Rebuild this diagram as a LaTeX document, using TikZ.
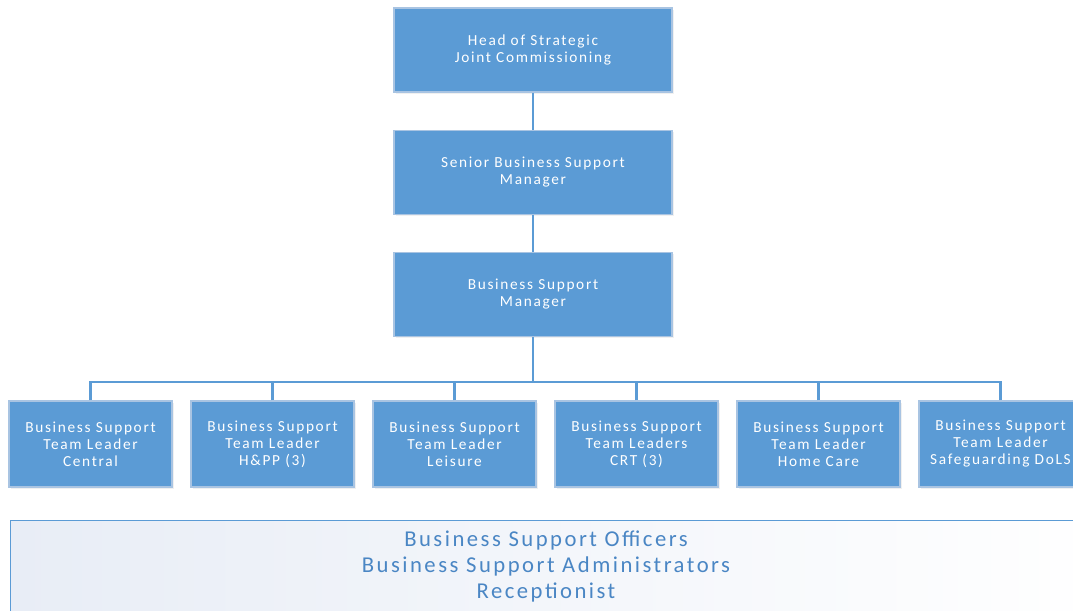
\documentclass[tikz,border=0pt]{standalone}
\usepackage{fontspec}
\setmainfont[LetterSpace=11]{Carlito}
\usetikzlibrary{shadows}
\definecolor{boxblue}{HTML}{5B9BD5}
\definecolor{boxedge}{HTML}{A9C4E2}
\definecolor{paneltext}{HTML}{4A86C4}
\definecolor{panelfill}{HTML}{E8EDF6}
\tikzset{
  post/.style={draw=boxedge, line width=0.9pt, fill=boxblue, text=white, align=center,
    minimum width=278*0.75pt, minimum height=84*0.75pt, inner sep=0pt,
    font=\fontsize{11.5}{12.75}\selectfont,
    drop shadow={opacity=0.12, shadow xshift=1.2pt, shadow yshift=-1.2pt}},
  teampost/.style={post, minimum width=163*0.75pt, minimum height=86*0.75pt},
  link/.style={draw=boxblue, line width=1.6pt}
}
\begin{document}
\begin{tikzpicture}[x=0.75pt,y=-0.75pt]
		\useasboundingbox (0,0) rectangle (1073,610);
		\node[post](Head1) at (533,50){Head of Strategic\\Joint Commissioning};
		\node[post](Senior2) at (533,172.5){Senior Business Support\\Manager};
		\node[post](Manager3) at (533,294.5){Business Support\\Manager};
		\node[teampost](TL4a) at (90.5,444){Business Support\\Team Leader\\Central};
		\node[teampost](TL4b) at (272.5,444){Business Support\\Team Leader\\H\&PP (3)};
		\node[teampost](TL4c) at (454.5,444){Business Support\\Team Leader\\Leisure};
		\node[teampost](TL4d) at (636.5,444){Business Support\\Team Leaders\\CRT (3)};
		\node[teampost](TL4e) at (818.5,444){Business Support\\Team Leader\\Home Care};
		\node[teampost](TL4f) at (1000.5,444){Business Support\\Team Leader\\Safeguarding DoLS};
		\coordinate (Bus) at (533,382);
		\draw[link] (Head1) -- (Senior2);
		\draw[link] (Senior2) -- (Manager3);
		\draw[link] (Manager3) -- (Bus);
		\foreach \t in {TL4a,TL4b,TL4c,TL4d,TL4e,TL4f}
			\draw[link] (\t.north) -- (\t.north |- Bus) -- (Bus);
		\node[draw=boxblue, line width=1pt, left color=panelfill, right color=white,
			minimum width=1100*0.75pt, minimum height=110*0.75pt, anchor=north west]
			(Staff5) at (9.5,519.5){};
		\node[text=paneltext, align=center, font=\fontsize{17}{19.5}\selectfont]
			(StaffText5) at (546,566){Business Support Officers\\Business Support Administrators\\Receptionist};
	\end{tikzpicture}
\end{document}
